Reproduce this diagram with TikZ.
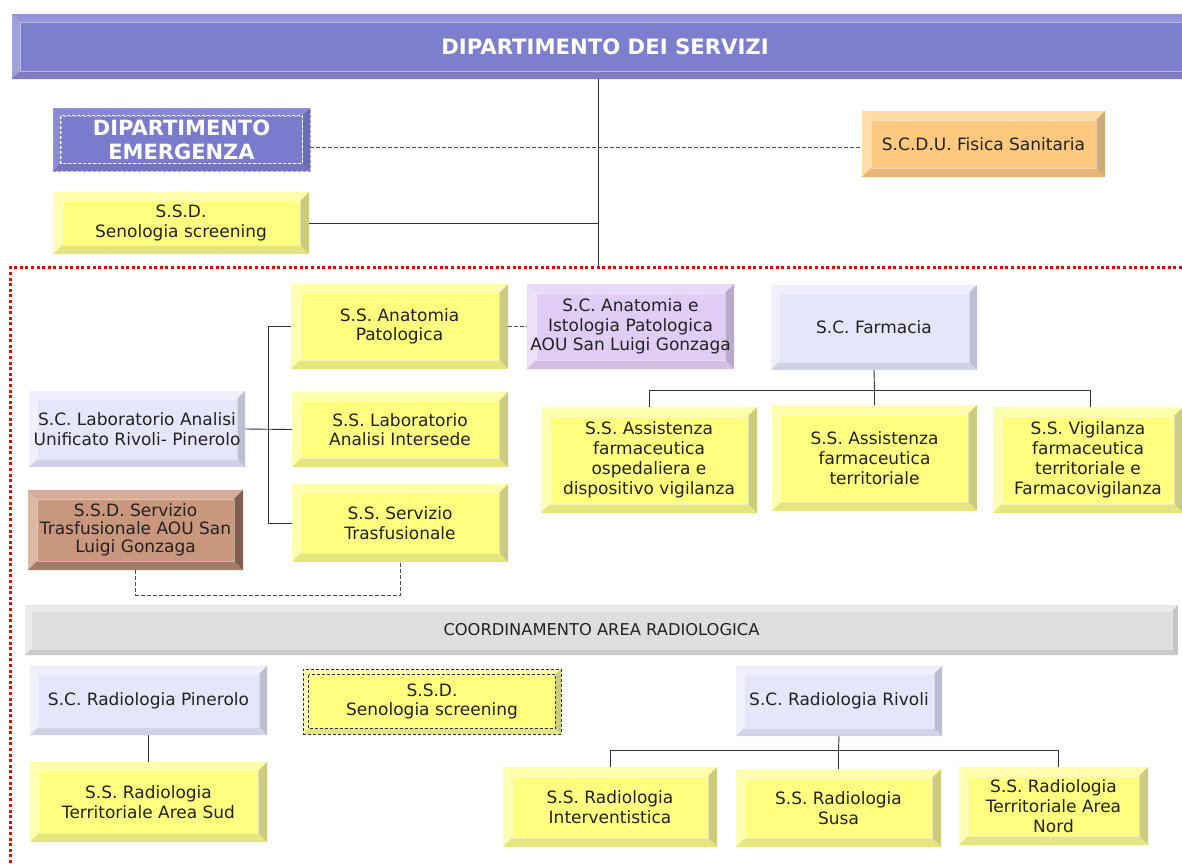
\documentclass[tikz,border=0pt]{standalone}
\usepackage{fontspec}
\setmainfont{DejaVu Sans}
\definecolor{yface}{HTML}{FFFF80}\definecolor{ytop}{HTML}{FFFFAE}\definecolor{yleft}{HTML}{FFFFB4}\definecolor{yright}{HTML}{CCCC80}\definecolor{ybot}{HTML}{E6E680}
\definecolor{lface}{HTML}{E6E6FA}\definecolor{ltop}{HTML}{EEEEFC}\definecolor{lleft}{HTML}{F1F1FD}\definecolor{lright}{HTML}{BEBED2}\definecolor{lbot}{HTML}{D2D2E6}
\definecolor{pface}{HTML}{E1CCF6}\definecolor{ptop}{HTML}{E9DAF9}\definecolor{pleft}{HTML}{ECDFFA}\definecolor{pright}{HTML}{BBA9CC}\definecolor{pbot}{HTML}{D2BFE3}
\definecolor{oface}{HTML}{FDC97F}\definecolor{otop}{HTML}{FDDCA6}\definecolor{oleft}{HTML}{FEDDAA}\definecolor{oright}{HTML}{CFAA7A}\definecolor{obot}{HTML}{E7B677}
\definecolor{bface}{HTML}{C9967E}\definecolor{btop}{HTML}{D7AD97}\definecolor{bleft}{HTML}{DCB8A5}\definecolor{bright}{HTML}{7F5E50}\definecolor{bbot}{HTML}{A27B69}
\definecolor{gface}{HTML}{DEDEDE}\definecolor{gtop}{HTML}{EAEAEA}\definecolor{gleft}{HTML}{EDEDED}\definecolor{gright}{HTML}{C5C5C5}\definecolor{gbot}{HTML}{C9C9C9}
\definecolor{tface}{HTML}{7D7ECE}\definecolor{ttop}{HTML}{9595D8}\definecolor{tleft}{HTML}{A0A0DC}\definecolor{tright}{HTML}{6A6AB0}\definecolor{tbot}{HTML}{7E7DBE}
\definecolor{eface}{HTML}{7B7BCD}\definecolor{etop}{HTML}{8989D3}\definecolor{eleft}{HTML}{8C8CD6}\definecolor{eright}{HTML}{6C6CB4}\definecolor{ebot}{HTML}{7474C0}
\definecolor{txt}{HTML}{222222}
\def\bevw{9pt}
\tikzset{
  bw/.code={\def\bevw{#1}},
  bevbox/.style n args={5}{fill=#1, draw=none, rectangle, inner sep=0pt, path picture={
    \fill[#2] (path picture bounding box.north west) -- (path picture bounding box.north east)
      -- ([xshift=-\bevw,yshift=-\bevw]path picture bounding box.north east)
      -- ([xshift=\bevw,yshift=-\bevw]path picture bounding box.north west) -- cycle;
    \fill[#3] (path picture bounding box.north west) -- (path picture bounding box.south west)
      -- ([xshift=\bevw,yshift=\bevw]path picture bounding box.south west)
      -- ([xshift=\bevw,yshift=-\bevw]path picture bounding box.north west) -- cycle;
    \fill[#4] (path picture bounding box.north east) -- (path picture bounding box.south east)
      -- ([xshift=-\bevw,yshift=\bevw]path picture bounding box.south east)
      -- ([xshift=-\bevw,yshift=-\bevw]path picture bounding box.north east) -- cycle;
    \fill[#5] (path picture bounding box.south west) -- (path picture bounding box.south east)
      -- ([xshift=-\bevw,yshift=\bevw]path picture bounding box.south east)
      -- ([xshift=\bevw,yshift=\bevw]path picture bounding box.south west) -- cycle;
    \draw[white, opacity=.45, line width=.8pt] ([xshift=\bevw,yshift=-\bevw]path picture bounding box.north west)
      rectangle ([xshift=-\bevw,yshift=\bevw]path picture bounding box.south east);
  }},
  lbl/.style={text=txt, align=center, font=\fontsize{17}{19.5}\selectfont},
  ybox/.style={bevbox={yface}{ytop}{yleft}{yright}{ybot}, lbl},
  lbox/.style={bevbox={lface}{ltop}{lleft}{lright}{lbot}, lbl, bw=8pt},
  pbox/.style={bevbox={pface}{ptop}{pleft}{pright}{pbot}, lbl},
  obox/.style={bevbox={oface}{otop}{oleft}{oright}{obot}, lbl},
  brbox/.style={bevbox={bface}{btop}{bleft}{bright}{bbot}, lbl},
  grbox/.style={bevbox={gface}{gtop}{gleft}{gright}{gbot}, lbl, bw=6pt, font=\fontsize{16.3}{18}\selectfont},
  ttbox/.style={bevbox={tface}{ttop}{tleft}{tright}{tbot}, bw=8pt, text=white, font=\fontsize{21.2}{24}\selectfont\bfseries},
  emgbox/.style={bevbox={eface}{etop}{eleft}{eright}{ebot}, bw=8pt, text=white, align=center, font=\fontsize{21}{24}\selectfont\bfseries},
  sz/.style 2 args={minimum width=#1pt, minimum height=#2pt},
  conn/.style={draw=black!80, line width=0.9pt},
  dashconn/.style={draw=black!70, line width=0.9pt, dash pattern=on 4pt off 2pt},
  reddot/.style={draw=red!95!black, line width=3pt, dash pattern=on 3pt off 2.6pt},
}
\begin{document}
\begin{tikzpicture}[x=1pt, y=-1pt]
\useasboundingbox (0,0) rectangle (1182,863);
\clip (0,0) rectangle (1182,863);

% top level
\node[ttbox, sz={1188}{65}] (title) at (606,46.5) {\hspace*{-2pt}DIPARTIMENTO DEI SERVIZI};
\node[emgbox, sz={257}{63}, draw=tleft, dash pattern=on 3pt off 2pt, line width=0.8pt] (emerg) at (181.5,139.5) {DIPARTIMENTO\\EMERGENZA};
\draw[white, line width=0.8pt, dash pattern=on 3pt off 2pt] ([xshift=8pt,yshift=-8pt]emerg.north west) rectangle ([xshift=-8pt,yshift=8pt]emerg.south east);
\node[obox, sz={243}{66}] (fisica) at (983.5,144) {S.C.D.U. Fisica Sanitaria};
\node[ybox, sz={256}{62}] (seno1) at (181,223) {S.S.D.\\Senologia screening};

\coordinate (jt) at (598,267.5);
\draw[conn] (title.south -| jt) -- (jt);
\draw[conn] (seno1.east) -- (seno1.east -| jt);
\draw[dashconn] (emerg.east |- 0,147) -- (fisica.west |- 0,147);

% red dotted frame
\draw[reddot] (10.5,863) -- (10.5,267.5) -- (1182,267.5);

% laboratory area
\node[ybox, sz={217}{85}] (anat) at (399.5,326.5) {S.S. Anatomia\\Patologica};
\node[pbox, sz={207}{85}] (anataou) at (630.5,326.5) {S.C. Anatomia e\\Istologia Patologica\\AOU San Luigi Gonzaga};
\node[lbox, sz={206}{85}] (farm) at (874,327.5) {S.C. Farmacia};
\node[lbox, sz={216}{76}] (lab) at (137,429) {S.C. Laboratorio Analisi\\Unificato Rivoli- Pinerolo};
\node[ybox, sz={216}{75}] (labint) at (400,429.5) {S.S. Laboratorio\\Analisi Intersede};
\node[ybox, sz={216}{78}] (trasf) at (400,523) {S.S. Servizio\\Trasfusionale};
\node[brbox, sz={215}{80}, font=\fontsize{17}{18}\selectfont] (trasfaou) at (135.5,530) {S.S.D. Servizio\\Trasfusionale AOU San\\Luigi Gonzaga};

\node[ybox, sz={216}{106}, font=\fontsize{17}{20}\selectfont] (af1) at (649,460) {S.S. Assistenza\\farmaceutica\\ospedaliera e\\dispositivo vigilanza};
\node[ybox, sz={205}{106}, font=\fontsize{17}{20}\selectfont] (af2) at (874.5,458) {S.S. Assistenza\\farmaceutica\\territoriale};
\node[ybox, sz={190}{106}, font=\fontsize{17}{20}\selectfont] (af3) at (1088,460) {S.S. Vigilanza\\farmaceutica\\territoriale e\\Farmacovigilanza};

\coordinate (lt) at (268,429);
\draw[conn] (lab.east) -- (labint.west);
\draw[conn] (lt |- anat.west) -- (lt |- trasf.west);
\draw[conn] (lt |- anat.west) -- (anat.west);
\draw[conn] (lt |- trasf.west) -- (trasf.west);
\draw[dashconn] (anat.east) -- (anataou.west);
\draw[dashconn] (trasfaou.south) -- ++(0,25) -| (trasf.south);

\coordinate (fj) at (874.5,390);
\draw[conn] (farm.south) -- (fj) -- (af2.north);
\draw[conn] (af1.north) -- (af1.north |- fj) -- ([xshift=2pt]af3.north |- fj) -- ([xshift=2pt]af3.north);

% radiology area
\node[grbox, sz={1153}{50}] (coord) at (601.5,630) {COORDINAMENTO AREA RADIOLOGICA};
\node[lbox, sz={237}{69}] (radpin) at (148.5,700.5) {S.C. Radiologia Pinerolo};
\node[ybox, sz={258}{65}, bw=6pt, draw=black!80, dash pattern=on 3pt off 2pt, line width=0.8pt] (seno2) at (432,701.5) {S.S.D.\\Senologia screening};
\draw[black!80, line width=0.8pt, dash pattern=on 3pt off 2pt] ([xshift=6pt,yshift=-6pt]seno2.north west) rectangle ([xshift=-6pt,yshift=6pt]seno2.south east);
\node[lbox, sz={206}{70}] (radriv) at (839,701) {S.C. Radiologia Rivoli};
\node[ybox, sz={237}{80}] (radsud) at (148.5,802) {S.S. Radiologia\\Territoriale Area Sud};
\node[ybox, sz={214}{80}] (radint) at (610,807) {S.S. Radiologia\\Interventistica};
\node[ybox, sz={205}{78}] (radsusa) at (838.5,808) {S.S. Radiologia\\Susa};
\node[ybox, sz={189}{78}, font=\fontsize{17}{20}\selectfont] (radnord) at (1053.5,806) {S.S. Radiologia\\Territoriale Area\\Nord};

\draw[conn] (radpin.south) -- (radsud.north);
\coordinate (rj) at (838.5,750);
\draw[conn] (radriv.south) -- (rj) -- (radsusa.north);
\draw[conn] (radint.north) -- (radint.north |- rj) -- ([xshift=4.5pt]radnord.north |- rj) -- ([xshift=4.5pt]radnord.north);
\end{tikzpicture}
\end{document}
